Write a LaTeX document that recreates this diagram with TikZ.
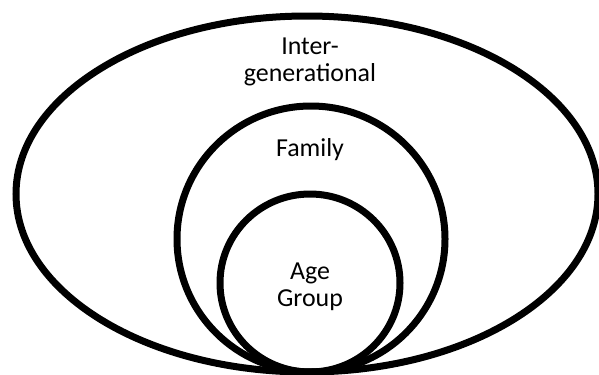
\documentclass[tikz,border=0pt]{standalone}
\usepackage{fontspec}
\setmainfont{Carlito}
\tikzset{
  ring/.style={line width=7bp},
  lbl/.style={align=center, font=\fontsize{26}{27}\selectfont, inner sep=0pt}
}
\begin{document}
\begin{tikzpicture}[x=1bp,y=-1bp]
    \useasboundingbox (0,0) rectangle (599,374);

    %rings
    \draw[ring] (307,194) ellipse [x radius=291, y radius=178];
    \draw[ring] (311,239) ellipse [x radius=134, y radius=133];
    \draw[ring] (310,283) ellipse [x radius=90, y radius=89];

    %labels
    \node[lbl] (inter) at (310,62) {Inter-\\generational};
    \node[lbl] (family) at (310,150) {Family};
    \node[lbl] (age) at (310,287) {Age\\Group};

\end{tikzpicture}
\end{document}
